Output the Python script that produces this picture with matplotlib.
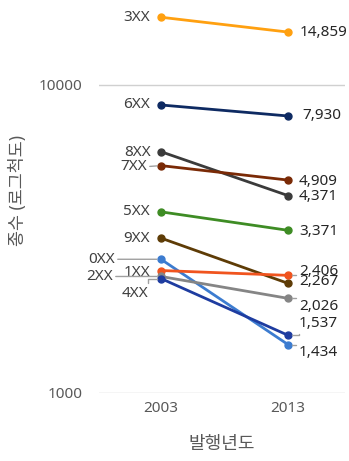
import numpy as np
import matplotlib
matplotlib.use("Agg")
from matplotlib import pyplot as plt
from matplotlib.ticker import FixedLocator, FixedFormatter, NullLocator

plt.rcParams['font.family'] = ['Noto Sans', 'Noto Sans CJK KR', 'DejaVu Sans']

years = ['2003', '2013']
series = ['3XX', '6XX', '8XX', '7XX', '5XX', '9XX', '0XX', '1XX', '2XX', '4XX']
v2003 = [16600, 8610, 6070, 5470, 3870, 3180, 2714, 2495, 2386, 2350]
v2013 = [14859, 7930, 4371, 4909, 3371, 2267, 1434, 2406, 2026, 1537]
colors = ['#FFA010', '#0E2A62', '#3B3B3B', '#7A2A06', '#3E8C24',
          '#5E3C06', '#3C7CD0', '#F0541E', '#858585', '#1E3CA0']

# label offsets in pixels, (right, down)
left_off = {'3XX': (-11, 0), '6XX': (-11, 0), '8XX': (-10, 1), '7XX': (-14, 1),
            '5XX': (-11, 0), '9XX': (-11, 0), '0XX': (-46, 0), '1XX': (-11, 2),
            '2XX': (-48, 0), '4XX': (-13, 15)}
right_off = {'3XX': (12, 0), '6XX': (14, 0), '8XX': (11, 1), '7XX': (11, 1),
             '5XX': (11, 1), '9XX': (11, -2), '0XX': (11, 8), '1XX': (11, -4),
             '2XX': (11, 8), '4XX': (11, -12)}
leader_left = {'7XX', '0XX', '2XX', '4XX'}
leader_right = {'1XX', '2XX', '4XX', '0XX'}

fig = plt.figure(figsize=(3.49, 4.61), dpi=100)
ax = fig.add_axes([99 / 349, 68.3 / 461, 246 / 349, 393.5 / 461])

x = np.arange(len(years))
for name, a, b, c in zip(series, v2003, v2013, colors):
    ax.plot(x, [a, b], color=c, lw=2.0, marker='o', ms=5, solid_capstyle='round', zorder=3)
    dx, dy = left_off[name]
    kw = {}
    if name in leader_left:
        cs = 'angle,angleA=90,angleB=0,rad=0' if name == '4XX' else 'arc3'
        kw['arrowprops'] = dict(arrowstyle='-', color='#a0a0a0', lw=1, shrinkA=0, shrinkB=3,
                                relpos=(1, 0.5), connectionstyle=cs)
    ax.annotate(name, (0, a), xytext=(dx, -dy), textcoords='offset pixels',
                ha='right', va='center', fontsize=11, color='#404040', **kw)
    dx, dy = right_off[name]
    kw = {}
    if name in leader_right:
        kw['arrowprops'] = dict(arrowstyle='-', color='#a0a0a0', lw=1, shrinkA=0, shrinkB=3,
                                relpos=(0, 0.5), connectionstyle='angle,angleA=90,angleB=0,rad=0')
    ax.annotate(f'{b:,}', (1, b), xytext=(dx, -dy), textcoords='offset pixels',
                ha='left', va='center', fontsize=11, color='#262626', **kw)

ax.set_yscale('log')
ax.set_ylim(1000, 19000)
ax.set_xlim(-0.488, 1.449)
ax.yaxis.set_major_locator(FixedLocator([1000, 10000]))
ax.yaxis.set_major_formatter(FixedFormatter(['1000', '10000']))
ax.yaxis.set_minor_locator(NullLocator())
ax.set_xticks(x)
ax.set_xticklabels(years)
ax.tick_params(axis='both', length=0, labelsize=11, colors='#595959')
ax.tick_params(axis='y', pad=12)
ax.tick_params(axis='x', pad=6)
ax.grid(axis='y', color='#d0d0d0', lw=1)
for s in ax.spines.values():
    s.set_visible(False)
ax.set_xlabel('발행년도', fontsize=13, color='#595959', labelpad=14)
fig.text(18 / 349, 1 - 191 / 461, '종수 (로그척도)', rotation=90, ha='center', va='center',
         fontsize=12.5, color='#595959')

fig.savefig('out.png', dpi=100)
